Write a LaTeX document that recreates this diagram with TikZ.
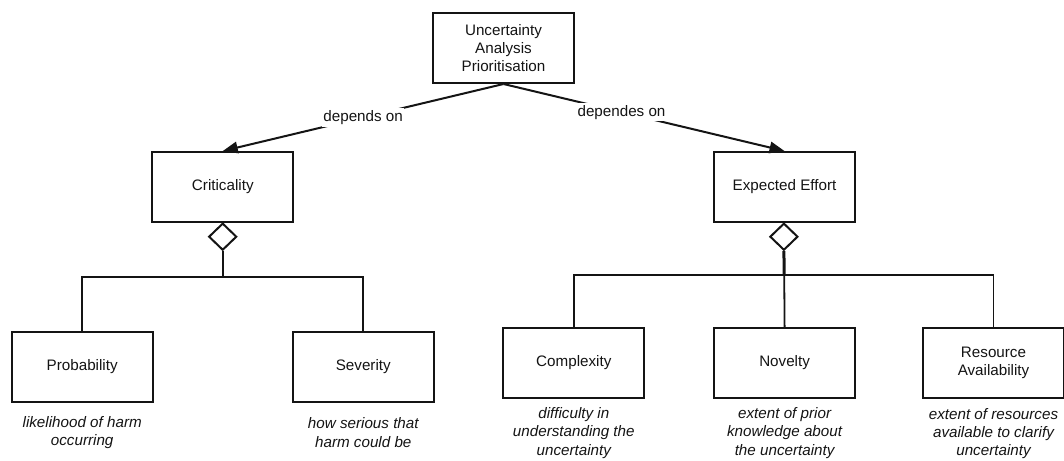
\documentclass[tikz,border=0pt]{standalone}
\usepackage{fontspec}
\setmainfont{Liberation Sans}
\usetikzlibrary{shapes.geometric,arrows.meta}
\definecolor{ink}{HTML}{141414}
\tikzset{
  box/.style={draw=ink, line width=2pt, fill=white, rectangle,
    minimum width=141pt, minimum height=70pt, inner sep=2pt, align=center,
    text=ink, font=\fontsize{15.2}{18.4}\selectfont},
  note/.style={align=center, text=ink, inner sep=0pt,
    font=\fontsize{15.2}{18.4}\selectfont\itshape},
  agg/.style={draw=ink, line width=2pt, fill=white, shape=diamond,
    inner sep=0pt, minimum width=28pt, minimum height=27pt},
  link/.style={draw=ink, line width=1.8pt},
  dep/.style={draw=ink, line width=2pt,
    -{Triangle[length=15pt,width=11.5pt]}},
  deplabel/.style={fill=white, text=ink, inner xsep=1pt, inner ysep=2pt,
    font=\fontsize{15.2}{18.4}\selectfont},
}
\begin{document}
\begin{tikzpicture}[x=1pt,y=-1pt]
  \useasboundingbox (0,0) rectangle (1064,460);

  % root and the two factors it depends on
  \node[box] (root) at (503.5,48) {Uncertainty\\Analysis\\Prioritisation};
  \node[box] (crit) at (222.8,187) {Criticality};
  \node[box] (eff)  at (784.5,187) {Expected Effort};

  % components of criticality
  \node[box] (prob) at (82.2,366.5)  {Probability};
  \node[box] (sev)  at (363.3,366.5) {Severity};

  % components of expected effort
  \node[box] (comp) at (573.8,363) {Complexity};
  \node[box] (nov)  at (784.6,363) {Novelty};
  \node[box] (res)  at (993.5,363) {Resource\\Availability};

  % descriptions under each component
  \node[note] (probn) at (82.2,432.5)  {likelihood of harm\\occurring};
  \node[note] (sevn)  at (363.3,432.5) {how serious that\\harm could be};
  \node[note] (compn) at (573.8,433)   {difficulty in\\understanding the\\uncertainty};
  \node[note] (novn)  at (784.6,433)   {extent of prior\\knowledge about\\the uncertainty};
  \node[note] (resn)  at (993.5,433.5) {extent of resources\\available to clarify\\uncertainty};

  % dependency arrows
  \draw[dep] (root.south) -- node[deplabel, pos=0.5] {depends on} (crit.north);
  \draw[dep] (root.south) -- node[deplabel, pos=0.42] {dependes on} (eff.north);

  % aggregation diamonds
  \node[agg] (critd) at (222.7,236.7) {};
  \node[agg] (effd)  at (783.9,236.7) {};

  % criticality tree
  \coordinate (lj) at (222.7,276.7);
  \draw[link] (critd.south) -- (lj);
  \draw[link] (prob.north) |- (lj) -| (sev.north);

  % expected effort tree
  \coordinate (rj) at (784.2,275);
  \draw[link, line width=3pt] (effd.south) -- (rj);
  \draw[link] (comp.north) |- (rj) -| (res.north);
  \draw[link] (rj) -- (nov.north);
\end{tikzpicture}
\end{document}
